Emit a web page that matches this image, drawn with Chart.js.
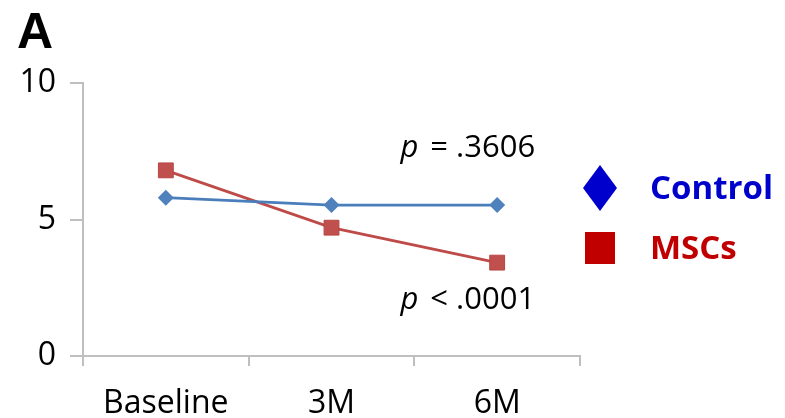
<!DOCTYPE html>
<html>
<head>
<meta charset="utf-8">
<script src="https://cdn.jsdelivr.net/npm/chart.js@4/dist/chart.umd.min.js"></script>
<style>
    html, body { margin: 0; padding: 0; background: #fff; }
    #wrap { width: 785px; height: 418px; }
</style>
</head>
<body>
<div id="wrap"><canvas id="figA" width="785" height="418"></canvas></div>
<script>
const timepoints = ['Baseline', '3M', '6M'];
const controlValues = [5.8, 5.53, 5.53];
const mscValues = [6.8, 4.7, 3.42];
const yTicks = [0, 5, 10];
const pLabels = [
    { italic: 'p', rest: ' = .3606', y: 7.6 },
    { italic: 'p', rest: ' < .0001', y: 2.05 }
];
const legendItems = [
    { label: 'Control', color: '#0000CC', shape: 'diamond' },
    { label: 'MSCs', color: '#C00000', shape: 'square' }
];

const FONT = '"Open Sans", "Noto Sans", sans-serif';
const axisGray = '#bfbfbf';

// panel letter, p-values and the legend on the right
const extras = {
    id: 'extras',
    afterDraw(chart) {
        const ctx = chart.ctx;
        const xs = chart.scales.x;
        const ys = chart.scales.y;
        const area = chart.chartArea;
        ctx.save();

        ctx.fillStyle = '#000';
        ctx.font = 'bold 50px "Liberation Sans", Arial, sans-serif';
        ctx.textBaseline = 'alphabetic';
        ctx.textAlign = 'left';
        ctx.fillText('A', 17, 48);

        const xRight = xs.getPixelForValue(timepoints.length - 1) + 38;
        pLabels.forEach(p => {
            const y = ys.getPixelForValue(p.y);
            ctx.textBaseline = 'middle';
            ctx.font = '31px ' + FONT;
            const restW = ctx.measureText(p.rest).width;
            ctx.fillText(p.rest, xRight - restW, y);
            ctx.font = 'italic 31px ' + FONT;
            const pw = ctx.measureText(p.italic).width;
            ctx.fillText(p.italic, xRight - restW - pw - 4, y);
        });

        const lx = area.right + 20;
        legendItems.forEach((item, i) => {
            const cy = 188 + i * 60;
            ctx.fillStyle = item.color;
            ctx.beginPath();
            if (item.shape === 'diamond') {
                ctx.moveTo(lx, cy - 23);
                ctx.lineTo(lx + 17, cy);
                ctx.lineTo(lx, cy + 23);
                ctx.lineTo(lx - 17, cy);
                ctx.closePath();
            } else {
                ctx.rect(lx - 15, cy - 16, 30, 32);
            }
            ctx.fill();
            ctx.font = 'bold 33px ' + FONT;
            ctx.textAlign = 'left';
            ctx.textBaseline = 'middle';
            ctx.fillText(item.label, lx + 50, cy + 2);
        });
        ctx.restore();
    }
};

new Chart(document.getElementById('figA'), {
    type: 'line',
    data: {
        labels: timepoints,
        datasets: [
            {
                label: 'Control',
                data: controlValues,
                borderColor: '#4a7ebb',
                backgroundColor: '#4f81bd',
                borderWidth: 2.8,
                pointStyle: 'rectRot',
                pointRadius: 8,
                pointBorderWidth: 0,
                tension: 0
            },
            {
                label: 'MSCs',
                data: mscValues,
                borderColor: '#be4b48',
                backgroundColor: '#c0504d',
                borderWidth: 2.8,
                pointStyle: 'rect',
                pointRadius: 10.5,
                pointBorderColor: '#b84542',
                pointBorderWidth: 1,
                tension: 0
            }
        ]
    },
    options: {
        responsive: false,
        animation: false,
        devicePixelRatio: 1,
        layout: { padding: { left: 0, right: 205, top: 83, bottom: 0 } },
        plugins: {
            legend: { display: false },
            tooltip: { enabled: false }
        },
        scales: {
            x: {
                offset: true,
                grid: {
                    offset: true,
                    drawOnChartArea: false,
                    tickLength: 10,
                    color: axisGray,
                    lineWidth: 2
                },
                border: { color: axisGray, width: 2 },
                ticks: {
                    color: '#000',
                    padding: 19,
                    maxRotation: 0,
                    font: { family: FONT, size: 32 }
                },
                afterFit(scale) { scale.height = 62; }
            },
            y: {
                min: 0,
                max: 10,
                afterBuildTicks(scale) {
                    scale.ticks = yTicks.map(v => ({ value: v }));
                },
                grid: {
                    drawOnChartArea: false,
                    tickLength: 13,
                    color: axisGray,
                    lineWidth: 2
                },
                border: { color: axisGray, width: 2 },
                ticks: {
                    color: '#000',
                    padding: 14,
                    font: { family: FONT, size: 32 }
                },
                afterFit(scale) { scale.width = 83; }
            }
        }
    },
    plugins: [extras]
});
</script>
</body>
</html>
